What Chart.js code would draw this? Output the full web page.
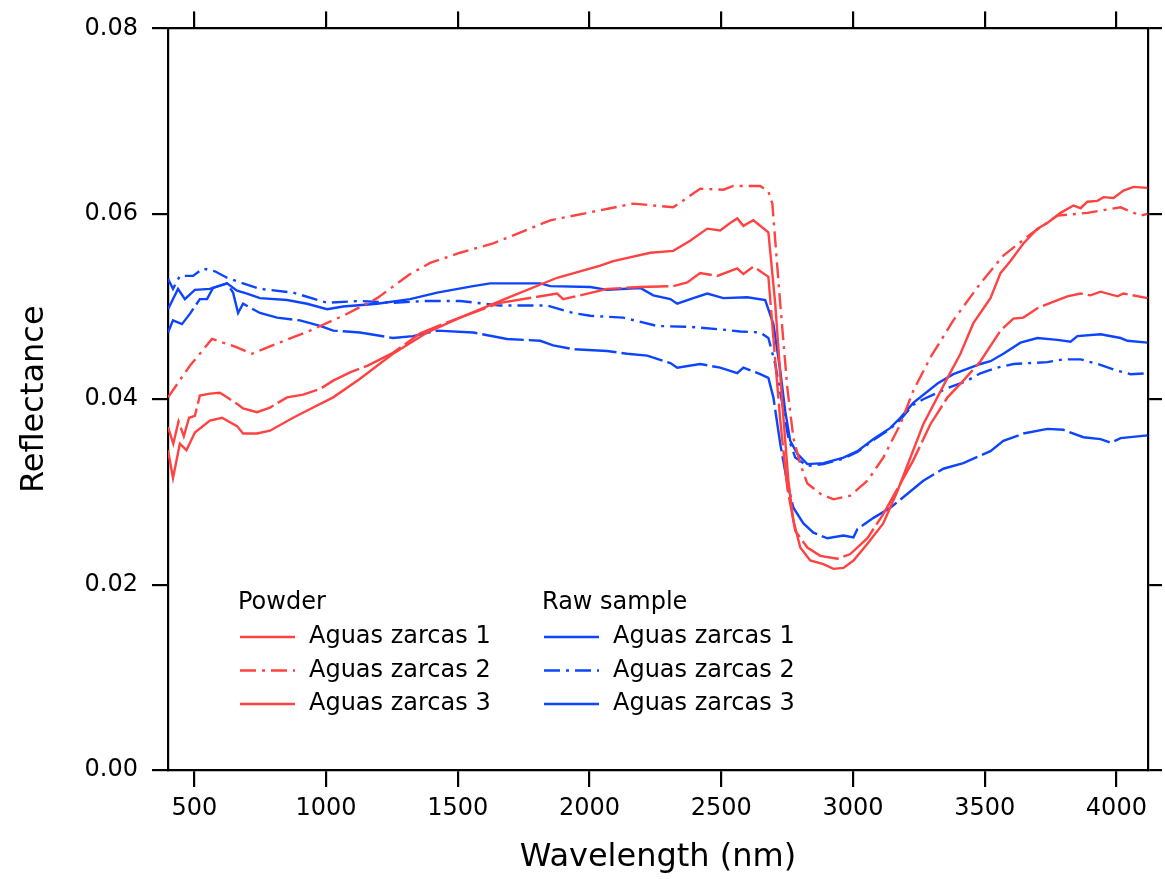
<!DOCTYPE html>
<html>
<head>
<meta charset="utf-8">
<title>Reflectance spectra</title>
<script src="https://cdn.jsdelivr.net/npm/chart.js@4/dist/chart.umd.min.js"></script>
<style>
  html, body { margin: 0; padding: 0; background: #fff; }
  #wrap { width: 1165px; height: 879px; }
</style>
</head>
<body>
<div id="wrap"><canvas id="chart" width="1165" height="879"></canvas></div>
<script>
// tick values
const xTicks = [500, 1000, 1500, 2000, 2500, 3000, 3500, 4000];
const yTicks = [0, 0.02, 0.04, 0.06, 0.08];

const groupNames = ["Powder", "Raw sample"];
const sampleNames = ["Aguas zarcas 1", "Aguas zarcas 2", "Aguas zarcas 3"];

// [wavelength nm, reflectance]
const powder1 = [
  [400, 0.0345], [419, 0.0315], [445, 0.0352], [470, 0.0345], [502, 0.0364],
  [559, 0.0377], [605, 0.0380], [662, 0.0371], [685, 0.0363], [738, 0.0363],
  [787, 0.0366], [875, 0.0380], [951, 0.0391], [1027, 0.0402], [1129, 0.0422],
  [1254, 0.0449], [1384, 0.0472], [1509, 0.0488], [1687, 0.0509], [1877, 0.0531],
  [2041, 0.0544], [2090, 0.0549], [2231, 0.0558], [2318, 0.0560], [2382, 0.0571],
  [2447, 0.0584], [2496, 0.0582], [2534, 0.0590], [2561, 0.0595], [2584, 0.0587],
  [2622, 0.0593], [2679, 0.0580], [2705, 0.0503], [2732, 0.0395], [2755, 0.0312],
  [2774, 0.0269], [2800, 0.0240], [2838, 0.0226], [2888, 0.0222], [2926, 0.0217],
  [2964, 0.0218], [3002, 0.0226], [3055, 0.0244], [3115, 0.0266], [3169, 0.0301],
  [3267, 0.0373], [3359, 0.0423], [3408, 0.0449], [3457, 0.0482], [3522, 0.0509],
  [3560, 0.0536], [3598, 0.0549], [3647, 0.0568], [3700, 0.0584], [3738, 0.0590],
  [3788, 0.0601], [3837, 0.0609], [3864, 0.0606], [3890, 0.0613], [3928, 0.0614],
  [3951, 0.0618], [3989, 0.0617], [4027, 0.0625], [4065, 0.0629], [4118, 0.0628]
];

const powder2 = [
  [400, 0.0402], [483, 0.0436], [567, 0.0465], [662, 0.0456], [719, 0.0449],
  [814, 0.0460], [939, 0.0474], [1065, 0.0490], [1194, 0.0509], [1319, 0.0535],
  [1395, 0.0547], [1509, 0.0558], [1634, 0.0568], [1851, 0.0593], [2079, 0.0606],
  [2166, 0.0611], [2318, 0.0607], [2420, 0.0627], [2508, 0.0626], [2546, 0.0630],
  [2648, 0.0630], [2679, 0.0624], [2694, 0.0611], [2724, 0.0503], [2751, 0.0412],
  [2774, 0.0358], [2800, 0.0330], [2827, 0.0309], [2876, 0.0298], [2926, 0.0292],
  [2990, 0.0296], [3055, 0.0312], [3115, 0.0337], [3180, 0.0373], [3229, 0.0409],
  [3294, 0.0445], [3381, 0.0485], [3484, 0.0525], [3571, 0.0555], [3674, 0.0578],
  [3776, 0.0598], [3890, 0.0601], [4016, 0.0607], [4092, 0.0598], [4118, 0.0600]
];

const powder3 = [
  [400, 0.0370], [420, 0.0352], [440, 0.0376], [460, 0.0360], [480, 0.0380],
  [502, 0.0382], [521, 0.0404], [559, 0.0406], [597, 0.0407], [624, 0.0402],
  [662, 0.0395], [685, 0.0390], [738, 0.0386], [787, 0.0391], [852, 0.0402],
  [913, 0.0405], [977, 0.0411], [1027, 0.0420], [1091, 0.0429], [1156, 0.0436],
  [1254, 0.0450], [1357, 0.0471], [1460, 0.0483], [1661, 0.0504], [1877, 0.0514],
  [1900, 0.0508], [1965, 0.0512], [2067, 0.0519], [2193, 0.0521], [2318, 0.0522],
  [2371, 0.0526], [2420, 0.0536], [2485, 0.0533], [2561, 0.0541], [2584, 0.0535],
  [2622, 0.0543], [2679, 0.0532], [2698, 0.0466], [2724, 0.0377], [2751, 0.0304],
  [2781, 0.0258], [2827, 0.0240], [2876, 0.0231], [2941, 0.0228], [2990, 0.0233],
  [3055, 0.0250], [3115, 0.0276], [3180, 0.0309], [3229, 0.0334], [3294, 0.0373],
  [3359, 0.0402], [3419, 0.0420], [3484, 0.0441], [3560, 0.0474], [3609, 0.0487],
  [3647, 0.0488], [3700, 0.0498], [3750, 0.0504], [3814, 0.0511], [3864, 0.0514],
  [3902, 0.0512], [3940, 0.0516], [4004, 0.0511], [4027, 0.0514], [4118, 0.0509]
];

const raw1 = [
  [400, 0.0497], [438, 0.0519], [464, 0.0508], [502, 0.0518], [559, 0.0519],
  [624, 0.0525], [662, 0.0517], [700, 0.0514], [749, 0.0509], [852, 0.0507],
  [928, 0.0503], [1004, 0.0497], [1065, 0.0500], [1194, 0.0503], [1319, 0.0508],
  [1422, 0.0515], [1558, 0.0522], [1623, 0.0525], [1813, 0.0525], [1851, 0.0522],
  [2003, 0.0521], [2067, 0.0518], [2193, 0.0520], [2242, 0.0512], [2307, 0.0508],
  [2333, 0.0503], [2394, 0.0509], [2447, 0.0514], [2508, 0.0509], [2599, 0.0510],
  [2667, 0.0507], [2698, 0.0481], [2724, 0.0431], [2743, 0.0387], [2762, 0.0355],
  [2789, 0.0341], [2827, 0.0330], [2888, 0.0331], [2964, 0.0337], [3017, 0.0344],
  [3078, 0.0357], [3142, 0.0369], [3180, 0.0380], [3229, 0.0396], [3321, 0.0417],
  [3381, 0.0427], [3484, 0.0438], [3522, 0.0441], [3571, 0.0449], [3636, 0.0461],
  [3700, 0.0466], [3776, 0.0464], [3826, 0.0462], [3852, 0.0468], [3940, 0.0470],
  [4016, 0.0466], [4042, 0.0463], [4118, 0.0461]
];

const raw2 = [
  [400, 0.0530], [419, 0.0519], [445, 0.0533], [495, 0.0533], [533, 0.0541],
  [578, 0.0538], [624, 0.0531], [685, 0.0525], [749, 0.0519], [875, 0.0515],
  [1004, 0.0504], [1129, 0.0506], [1254, 0.0504], [1384, 0.0506], [1509, 0.0506],
  [1661, 0.0501], [1839, 0.0501], [1938, 0.0493], [2003, 0.0490], [2128, 0.0488],
  [2257, 0.0479], [2382, 0.0478], [2508, 0.0475], [2572, 0.0473], [2648, 0.0472],
  [2679, 0.0466], [2705, 0.0438], [2732, 0.0395], [2755, 0.0358], [2781, 0.0337],
  [2827, 0.0328], [2888, 0.0330], [2964, 0.0336], [3017, 0.0343], [3078, 0.0356],
  [3142, 0.0368], [3180, 0.0378], [3229, 0.0394], [3267, 0.0400], [3359, 0.0412],
  [3434, 0.0420], [3484, 0.0428], [3548, 0.0434], [3609, 0.0438], [3738, 0.0440],
  [3799, 0.0443], [3864, 0.0443], [3928, 0.0438], [3989, 0.0432], [4054, 0.0427],
  [4118, 0.0428]
];

const raw3 = [
  [400, 0.0472], [419, 0.0485], [453, 0.0481], [483, 0.0492], [521, 0.0508],
  [548, 0.0508], [571, 0.0520], [624, 0.0525], [647, 0.0515], [666, 0.0493],
  [685, 0.0503], [749, 0.0493], [814, 0.0488], [901, 0.0485], [977, 0.0479],
  [1027, 0.0474], [1129, 0.0472], [1254, 0.0466], [1330, 0.0468], [1422, 0.0474],
  [1558, 0.0472], [1687, 0.0465], [1813, 0.0463], [1862, 0.0458], [1938, 0.0454],
  [2067, 0.0452], [2143, 0.0449], [2219, 0.0447], [2307, 0.0439], [2333, 0.0434],
  [2420, 0.0438], [2496, 0.0434], [2561, 0.0428], [2584, 0.0434], [2648, 0.0427],
  [2679, 0.0423], [2698, 0.0402], [2724, 0.0352], [2751, 0.0309], [2774, 0.0283],
  [2812, 0.0266], [2850, 0.0256], [2903, 0.0250], [2964, 0.0253], [3002, 0.0251],
  [3017, 0.0260], [3078, 0.0272], [3142, 0.0283], [3207, 0.0298], [3267, 0.0312],
  [3343, 0.0325], [3419, 0.0331], [3522, 0.0344], [3571, 0.0355], [3647, 0.0363],
  [3738, 0.0368], [3799, 0.0367], [3875, 0.0359], [3940, 0.0357], [3978, 0.0353],
  [4016, 0.0358], [4118, 0.0361]
];

const RED = "#ff4242";
const BLUE = "#0d45ff";
const SOLID = [];
const DASHDOT = [16, 6, 3, 6];
const LONGDASH = [42, 5];

function series(label, group, pts, color, dash, legendDash) {
  return {
    label: label,
    group: group,
    data: pts.map(p => ({ x: p[0], y: p[1] })),
    borderColor: color,
    borderWidth: 2.4,
    borderDash: dash,
    legendDash: legendDash,
    pointRadius: 0,
    tension: 0,
    fill: false,
    xAxisID: "x",
    yAxisID: "y",
  };
}

const datasets = [
  series(sampleNames[0], 0, powder1, RED, SOLID, SOLID),
  series(sampleNames[1], 0, powder2, RED, DASHDOT, DASHDOT),
  series(sampleNames[2], 0, powder3, RED, LONGDASH, SOLID),
  series(sampleNames[0], 1, raw1, BLUE, SOLID, SOLID),
  series(sampleNames[1], 1, raw2, BLUE, DASHDOT, DASHDOT),
  series(sampleNames[2], 1, raw3, BLUE, LONGDASH, SOLID),
];

// two-column legend with group headings, drawn inside the plot
const groupLegend = {
  id: "groupLegend",
  afterDatasetsDraw(chart) {
    const ctx = chart.ctx;
    const cols = [238, 542];
    ctx.save();
    ctx.font = '24px "DejaVu Sans", sans-serif';
    ctx.textBaseline = "middle";
    ctx.textAlign = "left";
    groupNames.forEach((name, g) => {
      const x0 = cols[g];
      ctx.fillStyle = "#000";
      ctx.fillText(name, x0, 603);
      chart.data.datasets
        .filter(ds => ds.group === g)
        .forEach((ds, i) => {
          const y = 637 + i * 33.5;
          ctx.beginPath();
          ctx.setLineDash(ds.legendDash);
          ctx.strokeStyle = ds.borderColor;
          ctx.lineWidth = 2.4;
          ctx.moveTo(x0 + 2, y);
          ctx.lineTo(x0 + 57, y);
          ctx.stroke();
          ctx.setLineDash([]);
          ctx.fillStyle = "#000";
          ctx.fillText(ds.label, x0 + 71, y);
        });
    });
    ctx.restore();
  },
};

Chart.defaults.font.family = '"DejaVu Sans", sans-serif';
Chart.defaults.color = "#000";

const frameGrid = (len) => ({
  drawOnChartArea: false,
  drawTicks: true,
  tickLength: len,
  color: "#000",
  lineWidth: 2.2,
});
const frameBorder = { display: true, color: "#000", width: 2.2 };

new Chart(document.getElementById("chart").getContext("2d"), {
  type: "line",
  data: { datasets: datasets },
  options: {
    responsive: false,
    animation: false,
    devicePixelRatio: 1,
    layout: { padding: 0 },
    plugins: {
      legend: { display: false },
      tooltip: { enabled: false },
    },
    scales: {
      x: {
        type: "linear",
        position: "bottom",
        min: 400,
        max: 4120,
        afterBuildTicks: (s) => { s.ticks = xTicks.map(v => ({ value: v })); },
        afterFit: (s) => { s.height = 109; },
        grid: frameGrid(17),
        border: frameBorder,
        ticks: {
          color: "#000",
          font: { size: 24 },
          padding: 7,
          maxRotation: 0,
          autoSkip: false,
          callback: (v) => String(v),
        },
        title: {
          display: true,
          text: "Wavelength (nm)",
          color: "#000",
          font: { size: 32 },
          padding: { top: 0, bottom: 2 },
        },
      },
      xTop: {
        type: "linear",
        position: "top",
        min: 400,
        max: 4120,
        afterBuildTicks: (s) => { s.ticks = xTicks.map(v => ({ value: v })); },
        afterFit: (s) => { s.height = 27; },
        grid: frameGrid(17),
        border: frameBorder,
        ticks: { display: false },
      },
      y: {
        type: "linear",
        position: "left",
        min: 0,
        max: 0.08,
        afterBuildTicks: (s) => { s.ticks = yTicks.map(v => ({ value: v })); },
        afterFit: (s) => { s.width = 168; },
        grid: frameGrid(16),
        border: frameBorder,
        ticks: {
          color: "#000",
          font: { size: 24 },
          padding: 14,
          callback: (v) => Number(v).toFixed(2),
        },
        title: {
          display: true,
          text: "Reflectance",
          color: "#000",
          font: { size: 32 },
          padding: { top: 15, bottom: 0 },
        },
      },
      yRight: {
        type: "linear",
        position: "right",
        min: 0,
        max: 0.08,
        afterBuildTicks: (s) => { s.ticks = yTicks.map(v => ({ value: v })); },
        afterFit: (s) => { s.width = 17; },
        grid: frameGrid(14),
        border: frameBorder,
        ticks: { display: false },
      },
    },
  },
  plugins: [groupLegend],
});
</script>
</body>
</html>
